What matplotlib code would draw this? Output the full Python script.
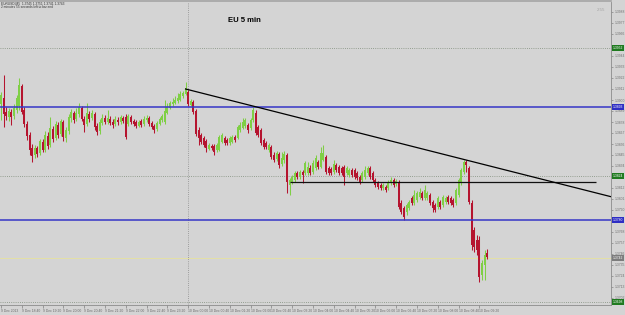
import matplotlib
matplotlib.use("Agg")
import matplotlib.pyplot as plt
from matplotlib.lines import Line2D
import numpy as np

plt.rcParams['font.family'] = ['Liberation Sans', 'DejaVu Sans']

# ---------------- data (EURUSD, M5) ----------------
opens = [
    1.3896, 1.3902, 1.3888, 1.3883, 1.3888, 1.3884, 1.3890, 1.3894, 1.3914, 1.3890,
    1.3876, 1.3865, 1.3852, 1.3845, 1.3852, 1.3847, 1.3858, 1.3850, 1.3864, 1.3855,
    1.3871, 1.3862, 1.3875, 1.3866, 1.3878, 1.3862, 1.3869, 1.3882, 1.3887, 1.3881,
    1.3886, 1.3892, 1.3881, 1.3876, 1.3886, 1.3882, 1.3886, 1.3874, 1.3869, 1.3877,
    1.3882, 1.3878, 1.3881, 1.3878, 1.3876, 1.3880, 1.3878, 1.3882, 1.3883, 1.3876,
    1.3883, 1.3879, 1.3878, 1.3874, 1.3879, 1.3876, 1.3880, 1.3882, 1.3877, 1.3874,
    1.3871, 1.3876, 1.3880, 1.3878, 1.3887, 1.3892, 1.3896, 1.3897, 1.3899, 1.3900,
    1.3904, 1.3906, 1.3908, 1.3895, 1.3898, 1.3889, 1.3870, 1.3865, 1.3862, 1.3859,
    1.3851, 1.3854, 1.3854, 1.3850, 1.3850, 1.3858, 1.3862, 1.3860, 1.3857, 1.3858,
    1.3863, 1.3862, 1.3870, 1.3872, 1.3874, 1.3875, 1.3872, 1.3880, 1.3887, 1.3873,
    1.3870, 1.3860, 1.3857, 1.3850, 1.3853, 1.3845, 1.3841, 1.3846, 1.3836, 1.3840,
    1.3845, 1.3815, 1.3818, 1.3820, 1.3827, 1.3823, 1.3828, 1.3827, 1.3827, 1.3832,
    1.3828, 1.3832, 1.3838, 1.3833, 1.3840, 1.3843, 1.3832, 1.3831, 1.3828, 1.3835,
    1.3833, 1.3832, 1.3833, 1.3827, 1.3825, 1.3830, 1.3830, 1.3827, 1.3823, 1.3820,
    1.3823, 1.3827, 1.3832, 1.3827, 1.3820, 1.3817, 1.3815, 1.3812, 1.3813, 1.3812,
    1.3817, 1.3820, 1.3816, 1.3818, 1.3797, 1.3792, 1.3788, 1.3792, 1.3802, 1.3797,
    1.3800, 1.3803, 1.3807, 1.3802, 1.3802, 1.3805, 1.3798, 1.3795, 1.3793, 1.3798,
    1.3795, 1.3798, 1.3803, 1.3802, 1.3800, 1.3797, 1.3805, 1.3817, 1.3828, 1.3838,
    1.3832, 1.3797, 1.3770, 1.3760, 1.3760, 1.3725, 1.3735, 1.3747,
]
highs = [
    1.3908, 1.3925, 1.3893, 1.3892, 1.3891, 1.3896, 1.3905, 1.3922, 1.3916, 1.3893,
    1.3879, 1.3868, 1.3856, 1.3855, 1.3854, 1.3861, 1.3861, 1.3869, 1.3868, 1.3883,
    1.3874, 1.3879, 1.3878, 1.3881, 1.3880, 1.3873, 1.3886, 1.3891, 1.3889, 1.3892,
    1.3897, 1.3894, 1.3884, 1.3897, 1.3889, 1.3890, 1.3888, 1.3877, 1.3881, 1.3886,
    1.3885, 1.3890, 1.3884, 1.3881, 1.3884, 1.3883, 1.3885, 1.3884, 1.3886, 1.3886,
    1.3885, 1.3881, 1.3880, 1.3880, 1.3881, 1.3884, 1.3885, 1.3884, 1.3879, 1.3876,
    1.3879, 1.3883, 1.3886, 1.3900, 1.3897, 1.3899, 1.3902, 1.3904, 1.3907, 1.3909,
    1.3909, 1.3918, 1.3910, 1.3901, 1.3900, 1.3891, 1.3873, 1.3867, 1.3864, 1.3861,
    1.3857, 1.3856, 1.3856, 1.3857, 1.3865, 1.3867, 1.3864, 1.3862, 1.3864, 1.3865,
    1.3865, 1.3875, 1.3878, 1.3882, 1.3882, 1.3877, 1.3882, 1.3893, 1.3890, 1.3875,
    1.3872, 1.3862, 1.3859, 1.3857, 1.3855, 1.3848, 1.3849, 1.3848, 1.3848, 1.3849,
    1.3847, 1.3822, 1.3825, 1.3829, 1.3829, 1.3830, 1.3830, 1.3839, 1.3838, 1.3835,
    1.3840, 1.3845, 1.3840, 1.3853, 1.3855, 1.3845, 1.3834, 1.3833, 1.3840, 1.3837,
    1.3835, 1.3834, 1.3835, 1.3834, 1.3832, 1.3832, 1.3832, 1.3829, 1.3825, 1.3829,
    1.3834, 1.3834, 1.3834, 1.3829, 1.3822, 1.3819, 1.3817, 1.3817, 1.3815, 1.3820,
    1.3823, 1.3822, 1.3821, 1.3820, 1.3800, 1.3794, 1.3797, 1.3800, 1.3804, 1.3810,
    1.3809, 1.3812, 1.3809, 1.3815, 1.3809, 1.3807, 1.3800, 1.3797, 1.3804, 1.3800,
    1.3805, 1.3804, 1.3805, 1.3804, 1.3802, 1.3812, 1.3822, 1.3832, 1.3840, 1.3840,
    1.3834, 1.3800, 1.3773, 1.3765, 1.3764, 1.3740, 1.3750, 1.3751,
]
lows = [
    1.3880, 1.3873, 1.3880, 1.3879, 1.3875, 1.3881, 1.3887, 1.3890, 1.3886, 1.3873,
    1.3860, 1.3845, 1.3838, 1.3842, 1.3843, 1.3845, 1.3848, 1.3848, 1.3851, 1.3853,
    1.3858, 1.3860, 1.3862, 1.3864, 1.3859, 1.3858, 1.3866, 1.3878, 1.3877, 1.3879,
    1.3883, 1.3879, 1.3868, 1.3874, 1.3878, 1.3880, 1.3870, 1.3865, 1.3866, 1.3875,
    1.3876, 1.3876, 1.3875, 1.3872, 1.3874, 1.3875, 1.3876, 1.3877, 1.3861, 1.3874,
    1.3876, 1.3874, 1.3872, 1.3873, 1.3873, 1.3874, 1.3878, 1.3874, 1.3871, 1.3867,
    1.3869, 1.3875, 1.3878, 1.3876, 1.3886, 1.3891, 1.3894, 1.3896, 1.3897, 1.3899,
    1.3902, 1.3905, 1.3894, 1.3894, 1.3886, 1.3864, 1.3855, 1.3856, 1.3853, 1.3848,
    1.3850, 1.3850, 1.3845, 1.3848, 1.3849, 1.3857, 1.3855, 1.3855, 1.3855, 1.3857,
    1.3858, 1.3861, 1.3868, 1.3871, 1.3872, 1.3867, 1.3870, 1.3878, 1.3865, 1.3863,
    1.3855, 1.3851, 1.3851, 1.3848, 1.3841, 1.3838, 1.3839, 1.3832, 1.3834, 1.3837,
    1.3807, 1.3805, 1.3816, 1.3818, 1.3821, 1.3821, 1.3817, 1.3825, 1.3825, 1.3825,
    1.3826, 1.3830, 1.3831, 1.3832, 1.3839, 1.3826, 1.3825, 1.3825, 1.3826, 1.3828,
    1.3825, 1.3825, 1.3815, 1.3825, 1.3823, 1.3823, 1.3821, 1.3820, 1.3816, 1.3818,
    1.3821, 1.3825, 1.3821, 1.3818, 1.3813, 1.3811, 1.3810, 1.3810, 1.3808, 1.3810,
    1.3815, 1.3813, 1.3814, 1.3791, 1.3786, 1.3780, 1.3785, 1.3790, 1.3795, 1.3795,
    1.3798, 1.3801, 1.3800, 1.3800, 1.3800, 1.3795, 1.3788, 1.3788, 1.3791, 1.3791,
    1.3793, 1.3796, 1.3796, 1.3795, 1.3793, 1.3795, 1.3803, 1.3815, 1.3826, 1.3828,
    1.3796, 1.3750, 1.3748, 1.3745, 1.3718, 1.3720, 1.3720, 1.3741,
]
closes = [
    1.3905, 1.3886, 1.3884, 1.3889, 1.3883, 1.3892, 1.3902, 1.3915, 1.3888, 1.3876,
    1.3864, 1.3850, 1.3844, 1.3852, 1.3846, 1.3859, 1.3850, 1.3865, 1.3854, 1.3872,
    1.3861, 1.3876, 1.3865, 1.3879, 1.3863, 1.3870, 1.3883, 1.3888, 1.3880, 1.3887,
    1.3893, 1.3881, 1.3875, 1.3887, 1.3881, 1.3887, 1.3873, 1.3868, 1.3878, 1.3882,
    1.3878, 1.3882, 1.3877, 1.3875, 1.3881, 1.3878, 1.3883, 1.3879, 1.3863, 1.3884,
    1.3878, 1.3876, 1.3874, 1.3878, 1.3875, 1.3881, 1.3882, 1.3876, 1.3873, 1.3870,
    1.3877, 1.3881, 1.3884, 1.3889, 1.3893, 1.3897, 1.3898, 1.3900, 1.3902, 1.3906,
    1.3907, 1.3912, 1.3896, 1.3899, 1.3888, 1.3866, 1.3862, 1.3858, 1.3855, 1.3852,
    1.3855, 1.3852, 1.3848, 1.3855, 1.3863, 1.3865, 1.3857, 1.3857, 1.3862, 1.3863,
    1.3860, 1.3873, 1.3875, 1.3878, 1.3880, 1.3870, 1.3880, 1.3890, 1.3867, 1.3865,
    1.3857, 1.3853, 1.3853, 1.3855, 1.3843, 1.3840, 1.3847, 1.3835, 1.3842, 1.3846,
    1.3818, 1.3820, 1.3823, 1.3827, 1.3823, 1.3828, 1.3825, 1.3837, 1.3833, 1.3827,
    1.3837, 1.3842, 1.3833, 1.3847, 1.3847, 1.3828, 1.3827, 1.3827, 1.3836, 1.3830,
    1.3827, 1.3827, 1.3823, 1.3832, 1.3830, 1.3825, 1.3823, 1.3822, 1.3818, 1.3827,
    1.3830, 1.3832, 1.3823, 1.3820, 1.3815, 1.3813, 1.3812, 1.3815, 1.3810, 1.3818,
    1.3820, 1.3815, 1.3819, 1.3793, 1.3788, 1.3783, 1.3795, 1.3798, 1.3797, 1.3805,
    1.3807, 1.3808, 1.3802, 1.3810, 1.3807, 1.3797, 1.3792, 1.3790, 1.3802, 1.3793,
    1.3803, 1.3802, 1.3798, 1.3797, 1.3795, 1.3810, 1.3820, 1.3830, 1.3838, 1.3835,
    1.3798, 1.3755, 1.3753, 1.3750, 1.3723, 1.3737, 1.3745, 1.3743,
]

date_tick_bars = [0, 8, 16, 24, 32, 40, 48, 56, 64, 72, 80, 88,
                  96, 104, 112, 120, 128, 136, 144, 152, 160, 168, 176, 184]
date_labels = ["9 Dec 2013", "9 Dec 18:40", "9 Dec 19:20", "9 Dec 20:00",
               "9 Dec 20:40", "9 Dec 21:20", "9 Dec 22:00", "9 Dec 22:40",
               "9 Dec 23:20", "10 Dec 00:00", "10 Dec 00:40", "10 Dec 01:20",
               "10 Dec 02:00", "10 Dec 02:40", "10 Dec 03:20", "10 Dec 04:00",
               "10 Dec 04:40", "10 Dec 05:20", "10 Dec 06:00", "10 Dec 06:40",
               "10 Dec 07:20", "10 Dec 08:00", "10 Dec 08:40", "10 Dec 09:20"]

price_ticks = [1.3988, 1.3977, 1.3966, 1.3955, 1.3944, 1.3933, 1.3922, 1.3911,
               1.3900, 1.3889, 1.3878, 1.3867, 1.3856, 1.3845, 1.3834, 1.3823,
               1.3812, 1.3801, 1.3790, 1.3779, 1.3768, 1.3757, 1.3746, 1.3735,
               1.3724, 1.3713, 1.3702]
price_labels = ["1.3988", "1.3977", "1.3966", "1.3955", "1.3944", "1.3933", "1.3922",
                "1.3911", "1.3900", "1.3889", "1.3878", "1.3867", "1.3856", "1.3845",
                "1.3834", "1.3823", "1.3812", "1.3801", "1.3790", "1.3779", "1.3768",
                "1.3757", "1.3746", "1.3735", "1.3724", "1.3713", "1.3702"]

blue_levels = [1.3893, 1.3780]
dotted_levels = [1.3952, 1.3824, 1.3698]
bid_level = 1.3742
support_level = 1.3818
support_bars = [111.2, 228.8]
trend_bars = [71.0, 234.6]
trend_prices = [1.3911, 1.38033]
separator_bar = 72

# ---------------- styling ----------------
bg = '#d4d4d4'
bull = '#7fcf45'
bear = '#b5142f'

fig = plt.figure(figsize=(6.25, 3.15), dpi=100, facecolor=bg)
ax = fig.add_axes([0, 10 / 315, 611 / 625, 303 / 315], facecolor=bg)
ax.set_xlim(-0.385, 234.6)
ax.set_ylim(1.3695, 1.3998)

o = np.array(opens); h = np.array(highs); l = np.array(lows); c = np.array(closes)
bars = np.arange(len(c))
cols = np.where(c >= o, bull, bear)

ax.vlines(bars, l, h, colors=cols, lw=0.75, zorder=2)
ax.bar(bars, c - o, bottom=o, width=0.8, color=cols, lw=0, zorder=3)

# objects
ax.axvline(separator_bar, color='#8c8c8c', lw=0.6, ls=(0, (1, 1.6)), zorder=1)
for lv in dotted_levels:
    ax.axhline(lv, color='#7f8d7b', lw=0.6, ls=(0, (1, 1.6)), zorder=1)
ax.axhline(bid_level, color='#e6e29e', lw=0.6, zorder=1)
for lv in blue_levels:
    ax.axhline(lv, color='#3636c6', lw=1.1, zorder=4)
ax.hlines(support_level, support_bars[0], support_bars[1], color='#111111', lw=0.9, zorder=5)
ax.plot(trend_bars, trend_prices, color='#000000', lw=0.9, zorder=5)

# axes
for s in ['top', 'left']:
    ax.spines[s].set_visible(False)
for s in ['right', 'bottom']:
    ax.spines[s].set_color('#8c8c8c')
    ax.spines[s].set_linewidth(0.6)

# price tags on right axis
tags = [(lv, '#1f7a1f') for lv in dotted_levels] + \
       [(lv, '#2e2ec4') for lv in blue_levels] + [(bid_level, '#7c7c7c')]
tag_values = [t[0] for t in tags]

# tick labels that would sit under a price tag are left blank
shown_labels = [lab if min(abs(p - tv) for tv in tag_values) > 0.00035 else ''
                for p, lab in zip(price_ticks, price_labels)]

ax.yaxis.tick_right()
ax.set_yticks(price_ticks)
ax.set_yticklabels(shown_labels)
ax.tick_params(axis='y', length=1.5, width=0.4, pad=1.2, labelsize=2.4,
               colors='#707070')
ax.set_xticks(date_tick_bars)
ax.set_xticklabels(date_labels, ha='left')
ax.tick_params(axis='x', length=2, width=0.4, pad=1.2, labelsize=2.4,
               colors='#6a6a6a')

tr = ax.get_yaxis_transform()
for lv, col in tags:
    ax.text(1.003, lv, f"{lv:.4f}", transform=tr, fontsize=2.4, color='white',
            va='center', ha='left', clip_on=False, zorder=10,
            bbox=dict(boxstyle='square,pad=0.35', fc=col, ec='none'))

# top border
fig.add_artist(Line2D([0, 611 / 625], [1 - 0.8 / 315, 1 - 0.8 / 315],
                      color='#a4a4a4', lw=1.2))

# texts
fig.text(0.002, 1 - 3.6 / 315, "EURUSD,M5  1.3745 1.3751 1.3741 1.3743",
         fontsize=2.3, color='#333333', va='center', ha='left')
fig.text(0.002, 1 - 7.2 / 315, "2 minutes 55 seconds left to bar end",
         fontsize=2.3, color='#333333', va='center', ha='left')
fig.text(597 / 625, 1 - 10 / 315, "2:55", fontsize=3.2, color='#a6a6a6',
         va='center', ha='left')
fig.text(228 / 625, 1 - 20.5 / 315, "EU 5 min", fontsize=5.5, weight='bold',
         color='black', va='center', ha='left')

fig.savefig('out.png', dpi=100, facecolor=bg)
